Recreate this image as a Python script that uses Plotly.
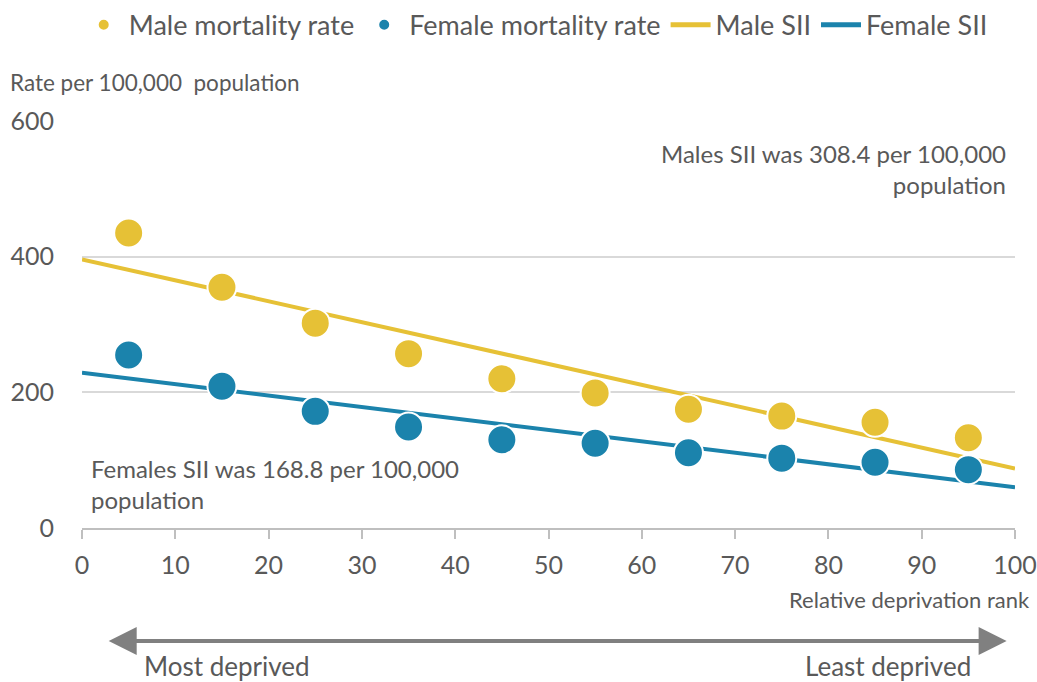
import plotly.graph_objects as go

# Data
rank = [5, 15, 25, 35, 45, 55, 65, 75, 85, 95]
male_rate = [435, 355, 302, 257, 220, 199, 175, 165, 156, 133]
female_rate = [255, 209, 172, 149, 130, 125, 111, 103, 97, 86]
sii_x = [0, 100]
male_sii = [396, 87.6]
female_sii = [229, 60.2]
x_ticks = list(range(0, 101, 10))
y_ticks = [0, 200, 400, 600]

YELLOW = "#E6C136"
BLUE = "#1B83AC"
GREY = "#595959"
FONT = "Lato"

fig = go.Figure()
fig.add_trace(go.Scatter(x=sii_x, y=male_sii, mode="lines", name="Male SII",
                         line=dict(color=YELLOW, width=4), legendrank=3))
fig.add_trace(go.Scatter(x=sii_x, y=female_sii, mode="lines", name="Female SII",
                         line=dict(color=BLUE, width=4), legendrank=4))
fig.add_trace(go.Scatter(x=rank, y=male_rate, mode="markers", name="Male mortality rate",
                         marker=dict(color=YELLOW, size=29, line=dict(color="white", width=2)),
                         legendrank=1))
fig.add_trace(go.Scatter(x=rank, y=female_rate, mode="markers", name="Female mortality rate",
                         marker=dict(color=BLUE, size=29, line=dict(color="white", width=2)),
                         legendrank=2))

fig.update_layout(
    width=1037, height=682, autosize=False,
    margin=dict(l=82, r=22, t=121, b=154, autoexpand=False),
    paper_bgcolor="white", plot_bgcolor="white",
    font=dict(family=FONT, color=GREY, size=20),
    showlegend=True,
    legend=dict(orientation="h", x=0.5166, xanchor="center", xref="container",
                y=0.963, yanchor="middle", yref="container",
                font=dict(size=27, color=GREY), itemsizing="constant",
                itemwidth=40, tracegroupgap=0),
)
fig.update_xaxes(range=[0, 100], tickvals=x_ticks, automargin=False,
                 showgrid=False, zeroline=False, showline=True,
                 linecolor="#BFBFBF", linewidth=1.5,
                 ticks="outside", ticklen=9, tickcolor="#BFBFBF", tickwidth=1.5,
                 ticklabelstandoff=5,
                 tickfont=dict(size=25, color=GREY), fixedrange=True)
fig.update_yaxes(range=[0, 600], tickvals=y_ticks, automargin=False,
                 showgrid=True, gridcolor="#D9D9D9", gridwidth=1.5,
                 zeroline=False, showline=False, ticks="",
                 ticklabelstandoff=27,
                 tickfont=dict(size=25, color=GREY), fixedrange=True)

annotations = [
    dict(text="Rate per 100,000  population", xref="paper", yref="paper",
         x=-0.0793, y=1.0934, xanchor="left", yanchor="middle", showarrow=False,
         font=dict(size=22.5, color=GREY)),
    dict(text="Relative deprivation rank", xref="paper", yref="paper",
         x=1.0182, y=-0.1769, xanchor="right", yanchor="middle", showarrow=False,
         font=dict(size=22, color=GREY)),
    dict(text="Males SII was 308.4 per 100,000<br>population", xref="x", yref="y",
         x=99.2, y=529, xanchor="right", yanchor="middle", align="right",
         showarrow=False, font=dict(size=24, color=GREY)),
    dict(text="Females SII was 168.8 per 100,000<br>population", xref="x", yref="y",
         x=0.7, y=65, xanchor="left", yanchor="middle", align="left",
         showarrow=False, font=dict(size=24, color=GREY)),
    dict(text="", xref="x", yref="paper", x=99.1, y=-0.2776,
         axref="x", ayref="pixel", ax=2.7, ay=0,
         showarrow=True, arrowside="end+start", arrowhead=2, arrowsize=1.4,
         arrowwidth=4, arrowcolor="#808080", standoff=0, startstandoff=0),
    dict(text="Most deprived", xref="paper", yref="paper",
         x=0.064, y=-0.339, xanchor="left", yanchor="middle", showarrow=False,
         font=dict(size=26, color=GREY)),
    dict(text="Least deprived", xref="paper", yref="paper",
         x=0.955, y=-0.339, xanchor="right", yanchor="middle", showarrow=False,
         font=dict(size=26, color=GREY)),
]
fig.update_layout(annotations=annotations)

fig.write_html(
    "out.html",
    config={"displayModeBar": False, "responsive": False},
    post_script=(
        "document.body.style.margin='0';document.body.style.overflow='hidden';"
    ),
)
